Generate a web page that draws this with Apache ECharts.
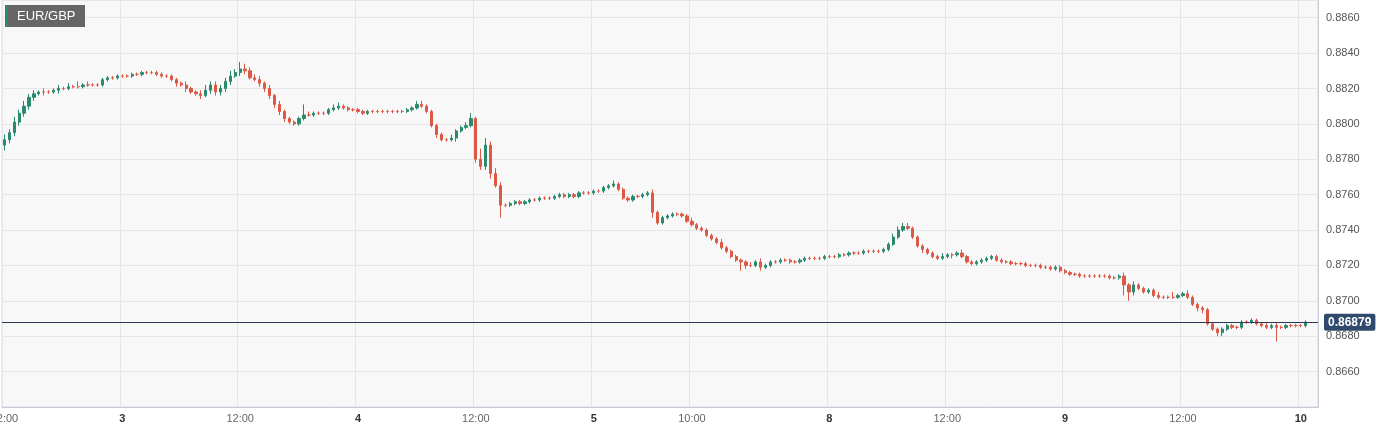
<!DOCTYPE html>
<html><head><meta charset="utf-8">
<script src="https://cdn.jsdelivr.net/npm/echarts@6/dist/echarts.min.js"></script>
<style>html,body{margin:0;padding:0;background:#fff}#c{width:1390px;height:429px}</style>
</head><body><div id="c"></div>
<script>
const days = ['2','3','4','5','8','9','10'];
const firstOpen = 0.8788;
const closes = [
.8791,.8795,.8801,.8806,.8810,.8815,.8817,.8818,.8818,.8818,
.8819,.8820,.8820,.8821,.8821,.8821,.8822,.8822,.8822,.8822,
.8825,.8826,.8826,.8827,.8827,.8827,.8828,.8828,.8829,.8829,
.8829,.8828,.8827,.8827,.8825,.8823,.8822,.8820,.8818,.8817,
.8816,.8819,.8822,.8818,.8820,.8824,.8827,.8829,.8831,.8830,
.8826,.8825,.8823,.8820,.8816,.8811,.8807,.8803,.8801,.8800,
.8803,.8805,.8805,.8806,.8806,.8806,.8808,.8809,.8810,.8809,
.8808,.8808,.8807,.8806,.8807,.8807,.8807,.8807,.8807,.8807,
.8807,.8807,.8808,.8809,.8811,.8810,.8807,.8799,.8794,.8791,
.8791,.8792,.8796,.8798,.8799,.8803,.8780,.8776,.8788,.8772,
.8765,.8754,.8754,.8755,.8756,.8755,.8756,.8757,.8757,.8758,
.8758,.8758,.8759,.8760,.8759,.8760,.8759,.8761,.8761,.8761,
.8762,.8762,.8764,.8765,.8766,.8763,.8758,.8757,.8759,.8759,
.8760,.8761,.8750,.8744,.8747,.8748,.8749,.8749,.8748,.8745,
.8743,.8741,.8740,.8737,.8735,.8733,.8730,.8728,.8725,.8723,
.8722,.8720,.8720,.8722,.8719,.8720,.8722,.8722,.8723,.8723,
.8722,.8722,.8723,.8724,.8724,.8724,.8724,.8725,.8725,.8725,
.8726,.8726,.8727,.8727,.8727,.8728,.8728,.8728,.8728,.8729,
.8732,.8736,.8740,.8742,.8741,.8736,.8731,.8729,.8727,.8725,
.8724,.8725,.8726,.8726,.8727,.8725,.8722,.8721,.8722,.8723,
.8724,.8725,.8723,.8722,.8722,.8721,.8721,.8721,.8720,.8720,
.8720,.8719,.8719,.8718,.8719,.8717,.8716,.8715,.8715,.8714,
.8714,.8714,.8714,.8714,.8714,.8713,.8713,.8714,.8709,.8705,
.8709,.8707,.8705,.8706,.8703,.8702,.8702,.8702,.8702,.8703,
.8704,.8702,.8698,.8696,.8695,.8687,.8684,.8682,.8684,.8686,
.8685,.8685,.8688,.8688,.8689,.8687,.8686,.8685,.8686,.8685,
.8685,.8686,.8686,.8686,.8686,.86879];
// wick lengths in pips, one digit per candle
const wickUp = "3232322121 1212131211 1111111111 1111111211 2322223243 2221212111 1621111221 1111111111 1111221111 1211231642 3211111111 1111111111 1111211111 1121111111 2111112111 1121211111 1111111111 1111111111 1222211111 1211121111 1111111111 1111111111 1111111121 2111121131 1211111111 1111111212 111111";
const wickDn = "3222222121 1211111111 1111111111 1111121211 2122222122 1122222211 1111111111 1111111111 1111111121 1121112223 1711111111 1111111111 1111111111 1131111111 1111111111 5211211111 1111111111 1111111111 1111111211 1112111111 1111111111 1111111111 1111111165 2111111111 1112211221 1111111118 111111";
const lastPrice = 0.86879;
const yTicks = [0.8660,0.8680,0.8700,0.8720,0.8740,0.8760,0.8780,0.8800,0.8820,0.8840,0.8860];

const up = wickUp.replace(/ /g,''), dn = wickDn.replace(/ /g,'');
const cats = [];
for (let h = 12; h < 24; h++) for (const m of ['00','30']) cats.push('2 ' + h + ':' + m);
for (const d of days.slice(1, 6)) for (let h = 0; h < 24; h++) for (const m of ['00','30']) cats.push(d + ' ' + h + ':' + m);
for (const t of ['0:00','0:30','1:00','1:30']) cats.push('10 ' + t);
const data = closes.map((c, i) => {
  const o = i === 0 ? firstOpen : closes[i-1];
  const hi = Math.max(o, c) + (+up[i]) * 0.0001;
  const lo = Math.min(o, c) - (+dn[i]) * 0.0001;
  return [o, c, lo, hi];
});
const labelAt = {0:'12:00',24:'3',48:'12:00',72:'4',96:'12:00',120:'5',140:'10:00',168:'8',192:'12:00',216:'9',240:'12:00',264:'10'};
const chart = echarts.init(document.getElementById('c'));
chart.setOption({
  animation:false,
  backgroundColor:'#fff',
  grid:{left:2,right:72,top:0,bottom:22,outerBoundsMode:'none',containLabel:false,show:true,backgroundColor:'#f8f8f8',borderColor:'#d4d8e2',borderWidth:1},
  xAxis:{type:'category',data:cats,boundaryGap:true,
    axisLine:{lineStyle:{color:'#c8ccd6'}},axisTick:{show:false},
    axisLabel:{interval:(i)=>labelAt[i]!==undefined,margin:6,hideOverlap:false,
      formatter:(v,i)=>{const s=labelAt[i];return /:/.test(s)?s:'{b|'+s+'}';},
      color:'#666',fontSize:11,fontFamily:'Arial, Liberation Sans',
      rich:{b:{fontWeight:'bold',color:'#333',fontSize:11}}},
    splitLine:{show:true,interval:(i)=>labelAt[i]!==undefined&&i>0,lineStyle:{color:'#e4e6ea'}}},
  yAxis:{type:'value',position:'right',min:0.8640,max:0.8870,interval:0.002,scale:true,
    axisLine:{show:true,lineStyle:{color:'#c8ccd6'}},axisTick:{show:false},
    axisLabel:{margin:8,color:'#555',fontSize:11,fontFamily:'Arial, Liberation Sans',
      formatter:(v)=>yTicks.some(t=>Math.abs(t-v)<1e-7)?v.toFixed(4):''},
    splitLine:{lineStyle:{color:'#e4e6ea'}}},
  series:[{type:'candlestick',data:data,barWidth:'55%',
    itemStyle:{color:'#2a8a70',color0:'#dc5a45',borderColor:'#2a8a70',borderColor0:'#dc5a45',borderColorDoji:'#dc5a45',borderWidth:1},
    markLine:{symbol:'none',silent:true,precision:5,
      lineStyle:{color:'#2b3a55',width:1,type:'solid'},
      label:{position:'end',formatter:'0.86879',color:'#fff',fontWeight:'bold',fontSize:12,
        backgroundColor:'#2f4a6d',padding:[3,4,2,4],borderRadius:2,distance:6,fontFamily:'Arial, Liberation Sans'},
      data:[{yAxis:lastPrice}]}}],
  graphic:[
    {type:'rect',z:100,left:5,top:5,shape:{width:80,height:22},style:{fill:'#666'}},
    {type:'rect',z:101,left:5,top:5,shape:{width:3,height:22},style:{fill:'#2a8a70'}},
    {type:'text',z:102,left:17,top:10,style:{text:'EUR/GBP',fill:'#fff',fontSize:13,fontFamily:'Arial, Liberation Sans'}}
  ]
});
</script></body></html>
